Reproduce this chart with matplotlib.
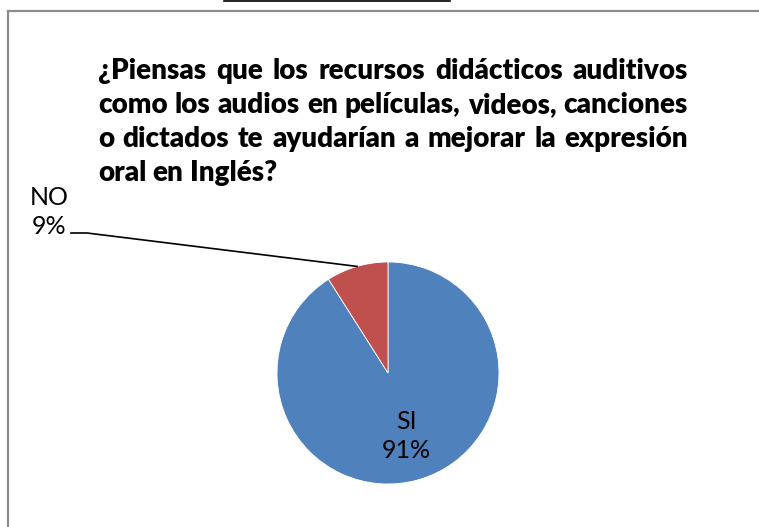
import numpy as np
import matplotlib.pyplot as plt
from matplotlib.lines import Line2D

# data
categories = ["SI", "NO"]
percentages = [91, 9]
colors = ["#4F81BD", "#C0504D"]
title_lines = [
    "¿Piensas que los recursos didácticos auditivos",
    "como los audios en películas, videos, canciones",
    "o dictados te ayudarían a mejorar la expresión",
    "oral en Inglés?",
]

W, H = 759, 527
fig = plt.figure(figsize=(W / 100, H / 100), dpi=100)
plt.rcParams["font.family"] = ["Lato", "DejaVu Sans"]


def fx(px):
    return px / W


def fy(py):
    return 1 - py / H


# frame of the chart (runs off the right and bottom edges)
fig.add_artist(Line2D([fx(8), fx(8)], [fy(10.5), fy(H + 5)], color="#8c8c8c", lw=1.6))
fig.add_artist(Line2D([fx(8), fx(W + 5)], [fy(10.5), fy(10.5)], color="#8c8c8c", lw=1.6))
# black rule above the chart
fig.add_artist(Line2D([fx(224), fx(450)], [fy(0.8), fy(0.8)], color="black", lw=1.2))

# justified title
renderer = fig.canvas.get_renderer()
left, right = 98, 688
baselines = [79, 113, 147, 181]
fsize = 20
weight = 800
for i, line in enumerate(title_lines):
    words = line.split()
    texts = [fig.text(0, fy(baselines[i]), w, fontsize=fsize, fontweight=weight,
                      va="baseline", ha="left") for w in words]
    widths = [t.get_window_extent(renderer).width for t in texts]
    if i < len(title_lines) - 1:
        gap = (right - left - sum(widths)) / (len(words) - 1)
    else:
        sp = fig.text(0, 0, "a a", fontsize=fsize, fontweight=weight)
        aa = fig.text(0, 0, "aa", fontsize=fsize, fontweight=weight)
        gap = sp.get_window_extent(renderer).width - aa.get_window_extent(renderer).width
        sp.remove()
        aa.remove()
    x = left
    for t, w in zip(texts, widths):
        t.set_x(fx(x))
        x += w + gap

# pie
cx, cy, r = 388, 373, 111
ax = fig.add_axes([fx(cx - r), fy(cy + r), 2 * r / W, 2 * r / H])
wedges, _ = ax.pie(percentages, colors=colors, startangle=90, counterclock=False,
                   wedgeprops=dict(linewidth=0.6, edgecolor="white"))
ax.set_xlim(-1, 1)
ax.set_ylim(-1, 1)
ax.axis("off")

# SI label inside
w0 = wedges[0]
mid = np.deg2rad((w0.theta1 + w0.theta2) / 2)
ax.text(0.6 * np.cos(mid), 0.6 * np.sin(mid) + 0.01, f"{categories[0]}\n{percentages[0]}%",
        ha="center", va="center", fontsize=18, linespacing=1.35, color="black")

# NO label outside with leader line
w1 = wedges[1]
mid = np.deg2rad((w1.theta1 + w1.theta2) / 2)
px, py = ax.transData.transform((np.cos(mid), np.sin(mid)))
fig.text(fx(49), fy(212), f"{categories[1]}\n{percentages[1]}%", ha="center", va="center",
         fontsize=18, linespacing=1.35, color="black")
fig.add_artist(Line2D([fx(71), fx(87), px / W], [fy(233), fy(233), py / H],
                      color="black", lw=1.2))

fig.savefig("out.png", dpi=100)
